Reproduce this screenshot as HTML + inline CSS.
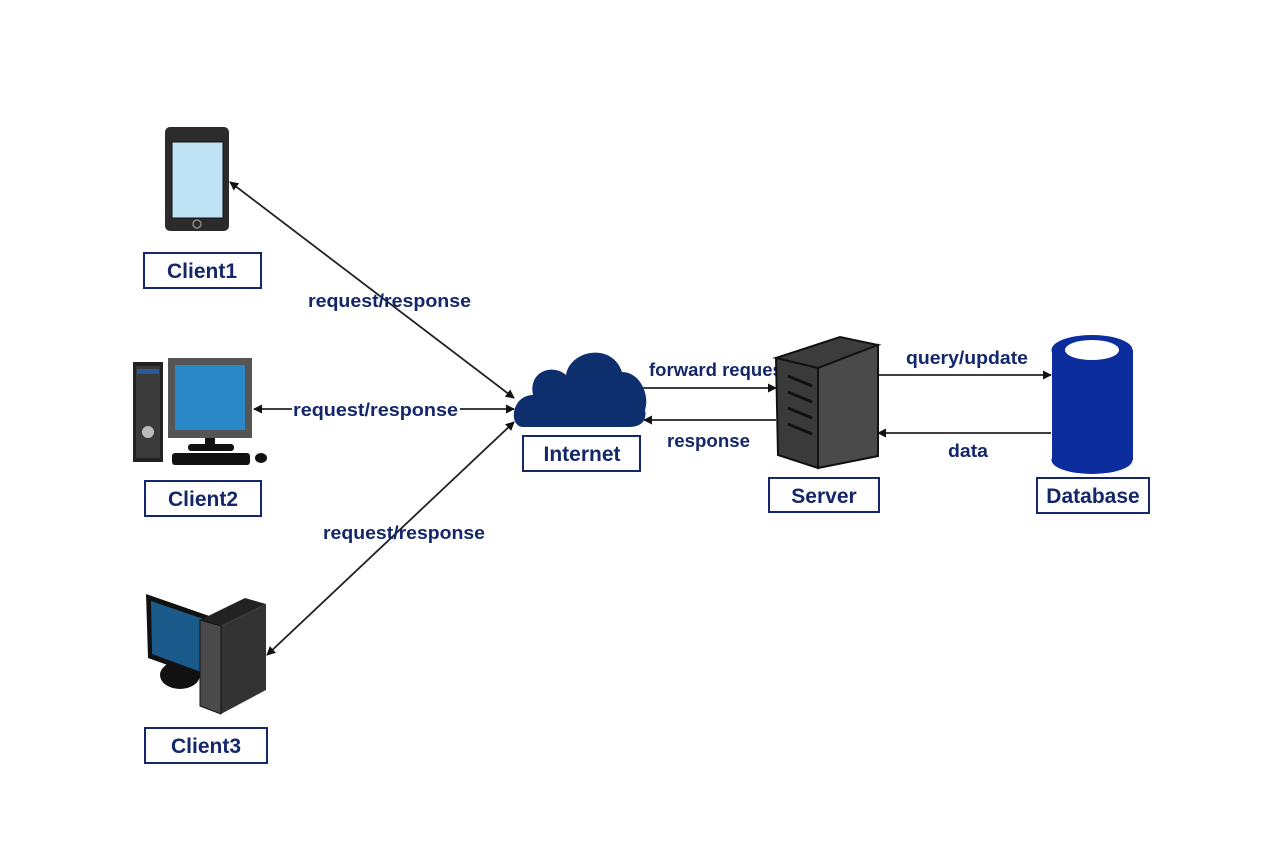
<!DOCTYPE html>
<html><head><meta charset="utf-8"><style>
html,body{margin:0;padding:0;background:#fff}
svg{display:block}
text{font-family:"Liberation Sans",Arial,sans-serif;font-weight:bold;fill:#14276a}
</style></head><body>
<svg width="1280" height="853" viewBox="0 0 1280 853" xmlns="http://www.w3.org/2000/svg">
<defs>
<marker id="ah" viewBox="0 0 10 10" refX="9" refY="5" markerWidth="9" markerHeight="9" markerUnits="userSpaceOnUse" orient="auto-start-reverse">
<path d="M0,0 L10,5 L0,10 z" fill="#111"/></marker>
</defs>
<!-- connectors -->
<g stroke="#222" stroke-width="1.8" fill="none">
<line x1="230" y1="182" x2="514" y2="398" marker-start="url(#ah)" marker-end="url(#ah)"/>
<line x1="254" y1="409" x2="514" y2="409" marker-start="url(#ah)" marker-end="url(#ah)"/>
<line x1="267" y1="655" x2="514" y2="422" marker-start="url(#ah)" marker-end="url(#ah)"/>
<line x1="640" y1="388" x2="776" y2="388" marker-end="url(#ah)"/>
<line x1="776" y1="420" x2="644" y2="420" marker-end="url(#ah)"/>
<line x1="878" y1="375" x2="1051" y2="375" marker-end="url(#ah)"/>
<line x1="1051" y1="433" x2="878" y2="433" marker-end="url(#ah)"/>
</g>
<!-- labels -->
<g font-size="18">
<text x="308" y="307" textLength="163" lengthAdjust="spacingAndGlyphs">request/response</text>
<rect x="292" y="400" width="168" height="18" fill="#fff"/>
<text x="293" y="416" textLength="165" lengthAdjust="spacingAndGlyphs">request/response</text>
<text x="323" y="539" textLength="162" lengthAdjust="spacingAndGlyphs">request/response</text>
<text x="649" y="376" textLength="140" lengthAdjust="spacingAndGlyphs">forward request</text>
<text x="667" y="447" textLength="83" lengthAdjust="spacingAndGlyphs">response</text>
<text x="906" y="364" textLength="122" lengthAdjust="spacingAndGlyphs">query/update</text>
<text x="948" y="457" textLength="40" lengthAdjust="spacingAndGlyphs">data</text>
</g>
<!-- phone -->
<rect x="165" y="127" width="64" height="104" rx="5" fill="#2b2b2b"/>
<rect x="172" y="142" width="51" height="76" fill="#bfe3f5" stroke="#111"/>
<circle cx="197" cy="224" r="4" fill="none" stroke="#888" stroke-width="1.5"/>
<!-- client2 pc -->
<rect x="133" y="362" width="30" height="100" fill="#222"/>
<rect x="136" y="366" width="24" height="92" fill="#3a3a3a"/>
<rect x="137" y="369" width="22" height="5" fill="#2a5a9a"/>
<circle cx="148" cy="432" r="6" fill="#bbb"/>
<rect x="168" y="358" width="84" height="80" fill="#555"/>
<rect x="175" y="365" width="70" height="65" fill="#2a87c8"/>
<rect x="205" y="438" width="10" height="8" fill="#111"/>
<rect x="188" y="444" width="46" height="7" rx="3" fill="#111"/>
<rect x="172" y="453" width="78" height="12" rx="3" fill="#111"/>
<ellipse cx="261" cy="458" rx="6" ry="5" fill="#111"/>
<!-- client3 -->
<ellipse cx="180" cy="675" rx="20" ry="14" fill="#111"/>
<polygon points="146,594 215,618 215,682 148,658" fill="#111"/>
<polygon points="151,601 212,622 212,676 152,654" fill="#1a5a8a"/>
<polygon points="200,620 245,598 266,604 221,626" fill="#222"/>
<polygon points="221,626 266,604 266,690 221,714" fill="#333"/>
<polygon points="200,620 221,626 221,714 200,706" fill="#4a4a4a" stroke="#111"/>
<!-- cloud -->
<path d="M522,427 C508,425 512,395 533,395 C528,372 552,363 566,375 C570,350 612,342 622,372 C640,372 650,395 645,410 C648,425 635,427 630,427 Z" fill="#0e2f6e"/>
<!-- server -->
<polygon points="776,358 840,337 878,345 818,368" fill="#3c3c3c" stroke="#111" stroke-width="2"/>
<polygon points="818,368 878,345 878,456 818,468" fill="#4a4a4a" stroke="#111" stroke-width="2"/>
<polygon points="776,358 818,368 818,468 778,455" fill="#3a3a3a" stroke="#111" stroke-width="2"/>
<g stroke="#111" stroke-width="3"><line x1="788" y1="376" x2="812" y2="386"/><line x1="788" y1="392" x2="812" y2="402"/><line x1="788" y1="408" x2="812" y2="418"/><line x1="788" y1="424" x2="812" y2="434"/></g>
<!-- database -->
<rect x="1052" y="350" width="81" height="110" fill="#0b2d9e"/>
<ellipse cx="1092" cy="460" rx="40.5" ry="14" fill="#0b2d9e"/>
<ellipse cx="1092" cy="350" rx="40.5" ry="15" fill="#0b2d9e"/>
<ellipse cx="1092" cy="350" rx="27" ry="10" fill="#fff"/>
<!-- boxes -->
<g fill="#fff" stroke="#14276a" stroke-width="2">
<rect x="144" y="253" width="117" height="35"/>
<rect x="145" y="481" width="116" height="35"/>
<rect x="145" y="728" width="122" height="35"/>
<rect x="523" y="436" width="117" height="35"/>
<rect x="769" y="478" width="110" height="34"/>
<rect x="1037" y="478" width="112" height="35"/>
</g>
<g font-size="21" text-anchor="middle">
<text x="202" y="278">Client1</text>
<text x="203" y="506">Client2</text>
<text x="206" y="753">Client3</text>
<text x="582" y="461">Internet</text>
<text x="824" y="503">Server</text>
<text x="1093" y="503">Database</text>
</g>
</svg>
</body></html>
